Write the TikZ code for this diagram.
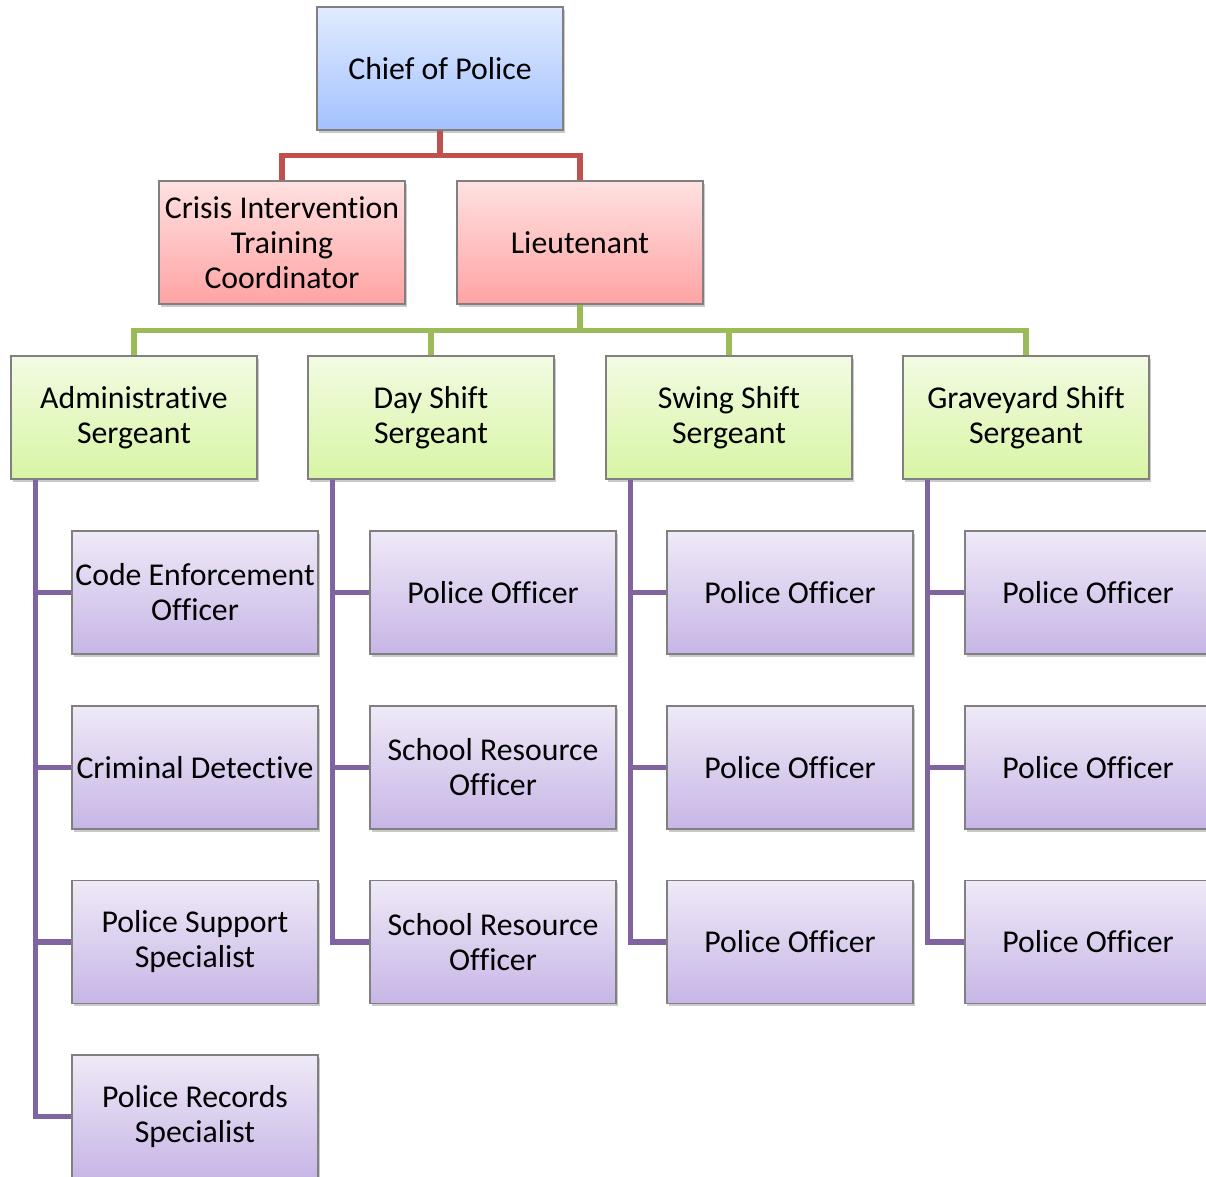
\documentclass[tikz,border=0pt]{standalone}
\usepackage{fontspec}
\setmainfont{Carlito}[Ligatures=NoCommon]
\usepackage{tikz}
\usetikzlibrary{calc}
\usetikzlibrary{shadows}

\definecolor{lnred}{HTML}{C0504D}
\definecolor{lngreen}{HTML}{9BBB59}
\definecolor{lnpurple}{HTML}{8064A2}
\definecolor{bluetop}{HTML}{E1EBFF}
\definecolor{bluebot}{HTML}{A3C1FF}
\definecolor{redtop}{HTML}{FFE1E1}
\definecolor{redbot}{HTML}{FFA3A3}
\definecolor{greentop}{HTML}{F2FBE3}
\definecolor{greenbot}{HTML}{D8F5A4}
\definecolor{purptop}{HTML}{EFE9F7}
\definecolor{purpbot}{HTML}{C7B6E6}

\tikzset{
  box/.style={draw=black!50, line width=0.9pt, minimum width=6.15cm,
    minimum height=3.075cm, inner sep=1pt, align=center,
    font=\fontsize{22.6pt}{24.9pt}\selectfont,
    drop shadow={shadow xshift=1.2pt, shadow yshift=-2pt, opacity=0.35, fill=black!60}},
  bluebox/.style={box, top color=bluetop, bottom color=bluebot},
  redbox/.style={box, top color=redtop, bottom color=redbot},
  greenbox/.style={box, top color=greentop, bottom color=greenbot},
  purpbox/.style={box, top color=purptop, bottom color=purpbot},
  redline/.style={draw=lnred, line width=3.8pt},
  greenline/.style={draw=lngreen, line width=3.8pt},
  purpline/.style={draw=lnpurple, line width=3.8pt},
}

\begin{document}
\begin{tikzpicture}[x=0.025cm, y=-0.025cm]
    \useasboundingbox (0,0) rectangle (1206,1177);
    \clip (0,0) rectangle (1206,1177);
    \node[bluebox] (A) at (440,68.5) {Chief of Police};
    \node[redbox] (B1) at (282,242.5) {Crisis Intervention\\Training\\Coordinator};
    \node[redbox] (B2) at (580,242.5) {Lieutenant};
    \node[greenbox] (C1) at (134,417.5) {Administrative\\Sergeant};
    \node[greenbox] (C2) at (431,417.5) {Day Shift\\Sergeant};
    \node[greenbox] (C3) at (729,417.5) {Swing Shift\\Sergeant};
    \node[greenbox] (C4) at (1026,417.5) {Graveyard Shift\\Sergeant};
    \node[purpbox] (D11) at (195,592.5) {Code Enforcement\\Officer};
    \node[purpbox] (D12) at (195,767.5) {Criminal Detective};
    \node[purpbox] (D13) at (195,942) {Police Support\\Specialist};
    \node[purpbox] (D14) at (195,1116.5) {Police Records\\Specialist};
    \node[purpbox] (D21) at (493,592.5) {Police Officer};
    \node[purpbox] (D22) at (493,767.5) {School Resource\\Officer};
    \node[purpbox] (D23) at (493,942) {School Resource\\Officer};
    \node[purpbox] (D31) at (790,592.5) {Police Officer};
    \node[purpbox] (D32) at (790,767.5) {Police Officer};
    \node[purpbox] (D33) at (790,942) {Police Officer};
    \node[purpbox] (D41) at (1088,592.5) {Police Officer};
    \node[purpbox] (D42) at (1088,767.5) {Police Officer};
    \node[purpbox] (D43) at (1088,942) {Police Officer};
    \draw[redline] (A.south) -- ++(0,25) -| (B1.north);
    \draw[redline] (A.south) -- ++(0,25) -| (B2.north);
    \foreach \s in {C1,C2,C3,C4}
      \draw[greenline] (B2.south) -- ++(0,26) -| (\s.north);
    \foreach \d in {D11,D12,D13,D14}
      \draw[purpline] ($(C1.south west)+(25,0)$) |- (\d.west);
    \foreach \d in {D21,D22,D23}
      \draw[purpline] ($(C2.south west)+(25,0)$) |- (\d.west);
    \foreach \d in {D31,D32,D33}
      \draw[purpline] ($(C3.south west)+(25,0)$) |- (\d.west);
    \foreach \d in {D41,D42,D43}
      \draw[purpline] ($(C4.south west)+(25,0)$) |- (\d.west);
  \end{tikzpicture}
\end{document}
